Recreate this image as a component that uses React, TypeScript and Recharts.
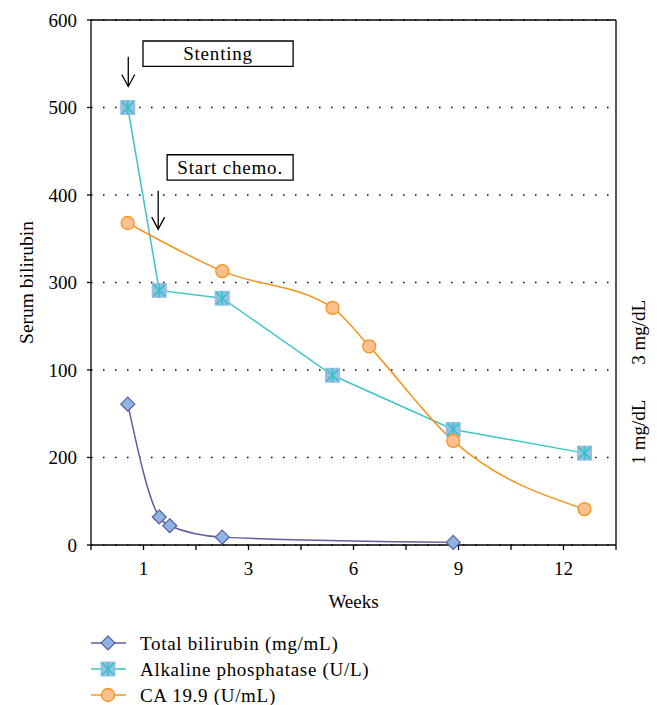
import React from "react"
import { LineChart, Line, XAxis, YAxis, CartesianGrid, ReferenceLine, ReferenceArea } from "recharts"

const xTicks = [0, 1, 2, 3, 4, 5, 6, 7, 8, 9, 10]
const xTickLabels = ["", "1", "", "3", "", "6", "", "9", "", "12", ""]
const yTicks = [0, 100, 200, 300, 400, 500, 600]
const yTickLabels = ["0", "200", "100", "300", "400", "500", "600"]
const rightTicks = [129, 243]
const rightTickLabels = ["1 mg/dL", "3 mg/dL"]

const bilirubinX = [0.7, 1.3, 1.5, 2.5, 6.9]
const bilirubinY = [161, 32, 22, 9, 3]
const alpX = [0.7, 1.3, 2.5, 4.6, 6.9, 9.4]
const alpY = [500, 291, 282, 194, 132, 105]
const caX = [0.7, 2.5, 4.6, 5.3, 6.9, 9.4]
const caY = [368, 313, 271, 227, 119, 41]

const annotations = [
  { label: "Stenting", x1: 0.99, x2: 3.85, y1: 547, y2: 576, arrowX: 0.71, arrowFrom: 558, arrowTo: 524 },
  { label: "Start chemo.", x1: 1.45, x2: 3.85, y1: 417, y2: 446, arrowX: 1.28, arrowFrom: 405, arrowTo: 361 },
]

const font = "Liberation Serif"
const txt = { fill: "#000", fontSize: 19, fontFamily: font, style: { fontFamily: font } }

const zip = (xs: number[], ys: number[]) => xs.map((x, i) => ({ x, y: ys[i] }))

function Diamond({ cx, cy }: any) {
  const r = 7
  return (
    <polygon
      points={`${cx},${cy - r} ${cx + r},${cy} ${cx},${cy + r} ${cx - r},${cy}`}
      fill="#8DB4E2"
      stroke="#5B5EA0"
      strokeWidth={1.2}
    />
  )
}

function StarSquare({ cx, cy }: any) {
  const h = 7.5
  const a = 6
  return (
    <g>
      <rect x={cx - h} y={cy - h} width={h * 2} height={h * 2} fill="#95BFE6" />
      <g stroke="#35C3C3" strokeWidth={1.6}>
        <line x1={cx} y1={cy - a - 1} x2={cx} y2={cy + a + 1} />
        <line x1={cx - a} y1={cy - a} x2={cx + a} y2={cy + a} />
        <line x1={cx - a} y1={cy + a} x2={cx + a} y2={cy - a} />
      </g>
    </g>
  )
}

function Circle({ cx, cy }: any) {
  return <circle cx={cx} cy={cy} r={6.5} fill="#FBC08E" stroke="#F7941D" strokeWidth={1.3} />
}

const series = [
  { name: "Total bilirubin (mg/mL)", data: zip(bilirubinX, bilirubinY), color: "#5B5EA0", type: "monotone", Marker: Diamond },
  { name: "Alkaline phosphatase (U/L)", data: zip(alpX, alpY), color: "#3CC6C6", type: "linear", Marker: StarSquare },
  { name: "CA 19.9 (U/mL)", data: zip(caX, caY), color: "#F7941D", type: "monotone", Marker: Circle },
]

function Arrow(p: any) {
  const { x1, y1, x2, y2 } = p
  return (
    <g stroke="#000" strokeWidth={1.3} fill="none">
      <line x1={x1} y1={y1} x2={x2} y2={y2} />
      <polyline points={`${x2 - 6.5},${y2 - 12} ${x2},${y2} ${x2 + 6.5},${y2 - 12}`} />
    </g>
  )
}

function LegendBlock() {
  return (
    <svg width={657} height={80} style={{ position: "absolute", left: 0, top: 625 }}>
      {series.map((s, i) => {
        const cy = 18 + i * 26
        const M = s.Marker
        return (
          <g key={s.name}>
            <line x1={91} y1={cy} x2={126} y2={cy} stroke={s.color} strokeWidth={1.5} />
            <M cx={108} cy={cy} />
            <text
              x={140}
              y={cy}
              dominantBaseline="central"
              fontSize={19}
              fontFamily={font}
              style={{ fontFamily: font }}
              letterSpacing={0.7}
              fill="#000"
            >
              {s.name}
            </text>
          </g>
        )
      })}
    </svg>
  )
}

export default function App() {
  return (
    <div style={{ position: "fixed", left: 0, top: 0, width: 657, height: 705, background: "#fff", fontFamily: font }}>
      <LineChart width={657} height={620} margin={{ top: 20, right: 1, left: 10, bottom: 5 }}>
        <CartesianGrid vertical={false} stroke="#000" strokeWidth={1.5} strokeDasharray="1.5 10.5" />
        <XAxis
          dataKey="x"
          type="number"
          domain={[0, 10]}
          ticks={xTicks}
          tickFormatter={(v: number) => xTickLabels[xTicks.indexOf(v)] ?? ""}
          allowDataOverflow
          height={70}
          tickSize={5}
          tickMargin={12}
          stroke="#000"
          strokeWidth={1.3}
          tick={txt}
          label={{ value: "Weeks", position: "insideTop", offset: 50, ...txt }}
        />
        <YAxis
          domain={[0, 600]}
          ticks={yTicks}
          tickFormatter={(v: number) => yTickLabels[yTicks.indexOf(v)]}
          width={81}
          tickSize={4}
          tickMargin={10}
          stroke="#000"
          strokeWidth={1.3}
          tick={txt}
          label={{
            value: "Serum bilirubin",
            angle: -90,
            position: "insideLeft",
            offset: 16,
            ...txt,
            fontSize: 19.5,
            style: { textAnchor: "middle", fontFamily: font },
          }}
        />
        <YAxis
          yAxisId="r"
          orientation="right"
          domain={[0, 600]}
          width={40}
          tick={false}
          tickLine={false}
          stroke="#000"
          strokeWidth={1.3}
        />
        <ReferenceLine y={600} stroke="#000" strokeWidth={1.3} />
        {rightTicks.map((v, i) => (
          <ReferenceLine
            key={"r" + v}
            y={v}
            stroke="none"
            strokeOpacity={0}
            label={{
              value: rightTickLabels[i],
              position: "right",
              angle: -90,
              offset: 22,
              ...txt,
              style: { textAnchor: "middle", fontFamily: font },
            }}
          />
        ))}
        {annotations.map((a) => (
          <ReferenceArea
            key={a.label}
            x1={a.x1}
            x2={a.x2}
            y1={a.y1}
            y2={a.y2}
            fill="#fff"
            fillOpacity={1}
            stroke="#000"
            strokeWidth={1.3}
            label={{ value: a.label, position: "center", letterSpacing: 0.8, ...txt }}
          />
        ))}
        {annotations.map((a) => (
          <ReferenceLine
            key={a.label + "-arrow"}
            segment={[
              { x: a.arrowX, y: a.arrowFrom },
              { x: a.arrowX, y: a.arrowTo },
            ]}
            shape={Arrow}
          />
        ))}
        {series.map((s) => {
          const M = s.Marker
          return (
            <Line
              key={s.name}
              data={s.data}
              dataKey="y"
              type={s.type as any}
              stroke={s.color}
              strokeWidth={1.5}
              dot={(p: any) => <M key={p.index} cx={p.cx} cy={p.cy} />}
              activeDot={false}
              isAnimationActive={false}
            />
          )
        })}
      </LineChart>
      <LegendBlock />
    </div>
  )
}
